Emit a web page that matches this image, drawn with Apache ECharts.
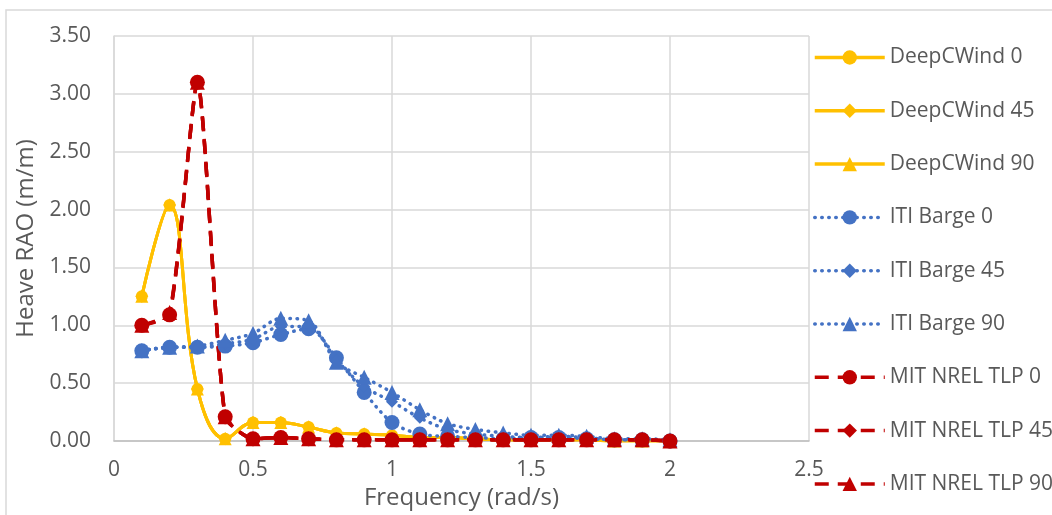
<!DOCTYPE html>
<html>
<head>
<meta charset="utf-8">
<script src="https://cdn.jsdelivr.net/npm/echarts@6/dist/echarts.min.js"></script>
<style>
html,body{margin:0;padding:0;background:#fff;}
#c{width:1052px;height:515px;}
</style>
</head>
<body>
<div id="c"></div>
<script>
const freq = [0.1,0.2,0.3,0.4,0.5,0.6,0.7,0.8,0.9,1.0,1.1,1.2,1.3,1.4,1.5,1.6,1.7,1.8,1.9,2.0];
const deepc0  = [1.25,2.04,0.45,0.02,0.16,0.16,0.12,0.07,0.06,0.05,0.03,0.03,0.02,0.01,0.01,0.01,0.01,0.00,0.00,0.00];
const deepc45 = [1.25,2.04,0.45,0.02,0.16,0.16,0.12,0.07,0.06,0.05,0.03,0.03,0.02,0.01,0.01,0.01,0.01,0.00,0.00,0.00];
const deepc90 = [1.25,2.04,0.45,0.02,0.16,0.16,0.12,0.07,0.06,0.05,0.03,0.03,0.02,0.01,0.01,0.01,0.01,0.00,0.00,0.00];
const iti0  = [0.78,0.81,0.81,0.82,0.85,0.92,0.97,0.72,0.42,0.16,0.06,0.04,0.03,0.02,0.03,0.03,0.02,0.01,0.01,0.00];
const iti45 = [0.78,0.81,0.81,0.84,0.88,0.99,0.99,0.70,0.47,0.34,0.20,0.10,0.06,0.04,0.03,0.04,0.03,0.01,0.01,0.00];
const iti90 = [0.78,0.81,0.82,0.87,0.93,1.06,1.04,0.68,0.55,0.42,0.27,0.15,0.10,0.07,0.05,0.05,0.04,0.02,0.02,0.01];
const mit0  = [1.00,1.09,3.10,0.21,0.02,0.03,0.02,0.01,0.01,0.01,0.01,0.01,0.01,0.01,0.01,0.01,0.01,0.01,0.01,0.00];
const mit45 = [1.00,1.10,3.10,0.21,0.02,0.03,0.02,0.01,0.01,0.01,0.01,0.01,0.01,0.01,0.01,0.01,0.01,0.01,0.01,0.00];
const mit90 = [1.00,1.11,3.10,0.21,0.02,0.03,0.02,0.01,0.01,0.01,0.01,0.01,0.01,0.01,0.01,0.01,0.01,0.01,0.01,0.00];
const seriesNames = ['DeepCWind 0','DeepCWind 45','DeepCWind 90','ITI Barge 0','ITI Barge 45','ITI Barge 90','MIT NREL TLP 0','MIT NREL TLP 45','MIT NREL TLP 90'];
const seriesData = [deepc0,deepc45,deepc90,iti0,iti45,iti90,mit0,mit45,mit90];

const YELLOW = '#FFC000', BLUE = '#4472C4', RED = '#C00000';
const styles = [
  {c:YELLOW, sym:'circle', size:12, line:{type:'solid', width:3}, smooth:0.4},
  {c:YELLOW, sym:'diamond', size:13, line:{type:'solid', width:3}, smooth:0.4},
  {c:YELLOW, sym:'triangle', size:13, line:{type:'solid', width:3}, smooth:0.4},
  {c:BLUE, sym:'circle', size:15, line:{type:[0.5,6.5], width:3.5, cap:'round'}, smooth:0.3},
  {c:BLUE, sym:'diamond', size:12, line:{type:[0.5,6.5], width:3.5, cap:'round'}, smooth:0.3},
  {c:BLUE, sym:'triangle', size:15, line:{type:[0.5,6.5], width:3.5, cap:'round'}, smooth:0.3},
  {c:RED, sym:'circle', size:15, line:{type:[14,9], width:3.5}, smooth:0.2},
  {c:RED, sym:'diamond', size:14, line:{type:[14,9], width:3.5}, smooth:0.2},
  {c:RED, sym:'triangle', size:15, line:{type:[14,9], width:3.5}, smooth:0.2}
];

const series = seriesNames.map((n,i)=>({
  name:n, type:'line',
  data: freq.map((f,j)=>[f, seriesData[i][j]]),
  symbol: styles[i].sym, symbolSize: styles[i].size,
  smooth: styles[i].smooth,
  itemStyle:{color:styles[i].c},
  lineStyle:Object.assign({color:styles[i].c}, styles[i].line),
  animation:false
}));

const chart = echarts.init(document.getElementById('c'));
const TXT = '#595959';
const FONT = 'Open Sans';
chart.setOption({
  animation:false,
  textStyle:{fontFamily:FONT},
  graphic:[{type:'rect', shape:{x:6,y:10,width:1100,height:600}, style:{fill:'none', stroke:'#d9d9d9', lineWidth:1.5}, z:-10}],
  grid:{left:114, top:36, right:243, bottom:74, containLabel:false},
  xAxis:{
    type:'value', min:0, max:2.5, interval:0.5,
    name:'Frequency (rad/s)', nameLocation:'middle', nameGap:43,
    nameTextStyle:{color:TXT, fontSize:24, fontFamily:FONT},
    axisLine:{show:true, lineStyle:{color:'#bfbfbf', width:1.5}},
    axisTick:{show:false},
    axisLabel:{color:TXT, fontSize:21, margin:19, fontFamily:FONT, showMaxLabel:true, showMinLabel:true},
    splitLine:{show:true, lineStyle:{color:'#d9d9d9', width:1.5}}
  },
  yAxis:{
    type:'value', min:0, max:3.5, interval:0.5,
    name:'Heave RAO (m/m)', nameLocation:'middle', nameGap:72, nameRotate:90,
    nameTextStyle:{color:TXT, fontSize:24, fontFamily:FONT},
    axisLine:{show:true, lineStyle:{color:'#d9d9d9', width:1.5}},
    axisTick:{show:false},
    axisLabel:{color:TXT, fontSize:21, margin:23, fontFamily:FONT, formatter:v=>v.toFixed(2)},
    splitLine:{show:true, lineStyle:{color:'#d9d9d9', width:1.5}}
  },
  legend:{
    orient:'vertical', left:808, top:42,
    itemWidth:70, itemHeight:18, itemGap:32.3,
    lineStyle:{width:3.5},
    textStyle:{color:TXT, fontSize:21, fontFamily:FONT},
    data:seriesNames
  },
  series:series
});
</script>
</body>
</html>
